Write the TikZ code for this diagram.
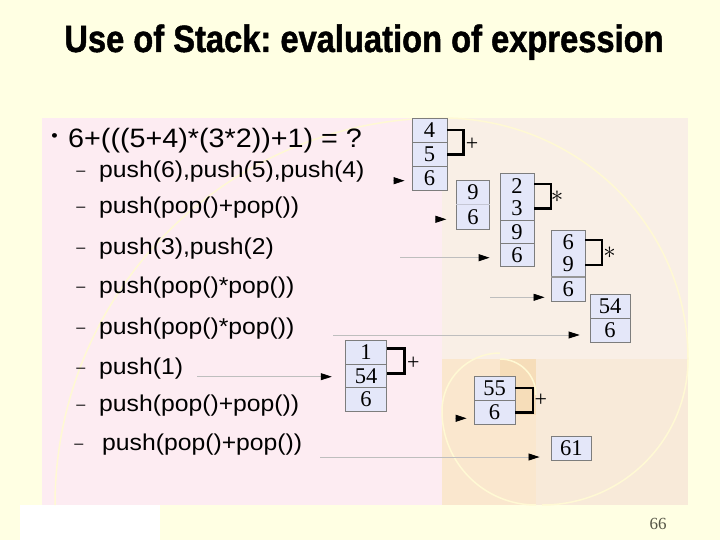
\documentclass[tikz,border=0pt]{standalone}
\usepackage{fontspec}
\setmainfont{Liberation Serif}
\newfontfamily\bodyfont[FakeStretch=1.08]{Liberation Sans}
\newfontfamily\titlefont[FakeStretch=0.86,BoldFeatures={FakeBold=1.2}]{Liberation Sans}
\newfontfamily\numfont{Liberation Serif}
\usetikzlibrary{arrows.meta}
\frenchspacing
\definecolor{slidebg}{RGB}{255,255,227}
\definecolor{pinkpanel}{RGB}{253,236,242}
\definecolor{beigepanel}{RGB}{249,239,230}
\definecolor{lowpanel}{RGB}{248,234,217}
\definecolor{orangepanel}{RGB}{250,231,206}
\definecolor{darkpanel}{RGB}{246,221,185}
\definecolor{spiral}{RGB}{255,249,212}
\definecolor{boxfill}{RGB}{228,231,249}
\definecolor{boxline}{RGB}{125,125,125}
\definecolor{connline}{RGB}{190,190,190}
\definecolor{pagenum}{RGB}{85,85,70}
\tikzset{
  cell/.style={draw=boxline, fill=boxfill, line width=0.8pt, inner sep=0pt,
    font=\numfont\fontsize{22.5}{22}\selectfont, align=center},
  brk/.style={line width=2.7pt, black},
  conn/.style={draw=connline, line width=0.8pt,
    -{Triangle[length=11pt,width=7pt,color=black]}},
  op/.style={inner sep=0pt, font=\numfont\fontsize{22}{22}\selectfont},
  ast/.style={inner sep=0pt, font=\fontsize{27}{27}\selectfont},
  mainline/.style={inner sep=0pt, anchor=base west, font=\bodyfont\fontsize{26.6}{28}\selectfont},
  subline/.style={inner sep=0pt, anchor=base west, font=\bodyfont\fontsize{22.9}{24}\selectfont},
  subdash/.style={inner sep=0pt, font=\bodyfont\fontsize{15}{18}\selectfont},
  arcline/.style={draw=spiral, line width=1.5pt},
}
\begin{document}
\begin{tikzpicture}[x=1pt,y=-1pt]
\useasboundingbox (0,0) rectangle (720,540);
% backgrounds
\fill[slidebg] (0,0) rectangle (720,540);
\fill[pinkpanel] (42,118) rectangle (442,505);
\fill[beigepanel] (442,118) rectangle (688,359);
\fill[lowpanel] (442,359) rectangle (688,505);
\fill[orangepanel] (442,359) rectangle (536,505);
\fill[darkpanel] (500,359) rectangle (536,415);
\fill[white] (20,505) rectangle (160,540);
% spiral arcs
\draw[arcline] (55,505) arc[start angle=180, end angle=270, radius=387];
\draw[arcline] (442,118) arc[start angle=270, end angle=360, x radius=246, y radius=241];
\draw[arcline] (688,359) arc[start angle=0, end angle=90, radius=146];
\draw[arcline] (536,505) arc[start angle=90, end angle=180, radius=94];
\draw[arcline] (442,411) arc[start angle=180, end angle=270, radius=58];
\draw[arcline] (500,359) arc[start angle=270, end angle=360, radius=36];

% title
\node[inner sep=0pt, anchor=base, font=\titlefont\bfseries\fontsize{38}{40}\selectfont] (title) at (364,52) {Use of Stack: evaluation of expression};

% text
\node[inner sep=0pt, font=\bodyfont\fontsize{17}{20}\selectfont] (bul) at (54.5,138) {•};
\node[mainline] (eq) at (68,148) {6+(((5+4)*(3*2))+1) = ?};
\node[subdash] (d1) at (81,173.3) {–};
\node[subline] (s1) at (99,177.5) {push(6),push(5),push(4)};
\node[subdash] (d2) at (81,209) {–};
\node[subline] (s2) at (99,213.2) {push(pop()+pop())};
\node[subdash] (d3) at (81,250) {–};
\node[subline] (s3) at (99,254.2) {push(3),push(2)};
\node[subdash] (d4) at (81,289) {–};
\node[subline] (s4) at (99,293.2) {push(pop()*pop())};
\node[subdash] (d5) at (81,330) {–};
\node[subline] (s5) at (99,334.2) {push(pop()*pop())};
\node[subdash] (d6) at (81,370) {–};
\node[subline] (s6) at (99,374.2) {push(1)};
\node[subdash] (d7) at (81,407.3) {–};
\node[subline] (s7) at (99,411.5) {push(pop()+pop())};
\node[subdash] (d8) at (79,446.7) {–};
\node[subline] (s8) at (102,450.9) {push(pop()+pop())};

% stacks
\node[cell, minimum width=35, minimum height=24] (b1a) at (429.5,130) {4};
\node[cell, minimum width=35, minimum height=24.3] (b1b) at (429.5,154.3) {5};
\node[cell, minimum width=35, minimum height=23.7] (b1c) at (429.5,178.3) {6};

\node[cell, minimum width=33, minimum height=23.6] (b2a) at (473,192.5) {9};
\node[cell, minimum width=33, minimum height=24.7] (b2b) at (473,216.7) {6};
\draw[draw=boxfill!70!boxline, line width=0.9pt] (b2a.south west) -- (b2a.south east);

\node[cell, minimum width=34, minimum height=46.7] (b3a) at (517,196.7) {2\\3};
\node[cell, minimum width=34, minimum height=23.3] (b3b) at (517,231.7) {9};
\node[cell, minimum width=34, minimum height=23.4] (b3c) at (517,255) {6};

\node[cell, minimum width=33.3, minimum height=46.7] (b4a) at (568.3,253.3) {6\\9};
\node[cell, minimum width=33.3, minimum height=25] (b4b) at (568.3,289.2) {6};
\draw[draw=boxline!80, line width=1.8pt] (b4a.south west) -- (b4a.south east);

\node[cell, minimum width=40, minimum height=24.3] (b5a) at (610,306.2) {54};
\node[cell, minimum width=40, minimum height=24] (b5b) at (610,330.3) {6};

\node[cell, minimum width=40.3, minimum height=23.6] (b6a) at (366,352.5) {1};
\node[cell, minimum width=40.3, minimum height=23] (b6b) at (366,375.8) {54};
\node[cell, minimum width=40.3, minimum height=23.7] (b6c) at (366,399.2) {6};

\node[cell, minimum width=41, minimum height=24] (b7a) at (494.5,388) {55};
\node[cell, minimum width=41, minimum height=24.3] (b7b) at (494.5,412.2) {6};

\node[cell, minimum width=40.7, minimum height=24.7] (b8) at (571.3,448.3) {61};

% brackets and operators
\draw[brk] (b1a.east) -- ++(16,0) |- (b1b.east);
\node[op] (o1) at (472,144) {+};
\draw[brk] ([yshift=12.7pt]b3a.east) -- ++(16.7,0) |- ([yshift=-11.6pt]b3a.east);
\node[ast] (o3) at (557,196.5) {$\ast$};
\draw[brk] ([yshift=13.3pt]b4a.east) -- ++(16.7,0) |- ([yshift=-11.7pt]b4a.east);
\node[ast] (o4) at (609.5,253) {$\ast$};
\draw[brk] ([yshift=4.2pt]b6a.east) -- ++(18,0) |- ([yshift=2.5pt]b6b.east);
\node[op] (o6) at (413.3,363.3) {+};
\draw[brk] (b7a.east) -- ++(17.7,0) |- (b7b.east);
\node[op] (o7) at (540.7,400.7) {+};

% connectors
\coordinate (a1) at (393,180.7);
\coordinate (a2) at (435,219.3);
\coordinate (a3) at (400,257.7);
\coordinate (a4) at (490,297.3);
\coordinate (a5) at (333,335);
\coordinate (a6) at (197,376.7);
\coordinate (a7) at (455,418.3);
\coordinate (a8) at (320,457);
\draw[conn, shorten >=7pt] (a1) -- (a1 -| b1c.west);
\draw[conn, shorten >=9.7pt] (a2) -- (a2 -| b2b.west);
\draw[conn, shorten >=10pt] (a3) -- (a3 -| b3c.west);
\draw[conn, shorten >=6.7pt] (a4) -- (a4 -| b4b.west);
\draw[conn, shorten >=10pt] (a5) -- (a5 -| b5b.west);
\draw[conn, shorten >=13.7pt] (a6) -- (a6 -| b6b.west);
\draw[conn, shorten >=7pt] (a7) -- (a7 -| b7b.west);
\draw[conn, shorten >=11pt] (a8) -- (a8 -| b8.west);

% page number
\node[inner sep=0pt, text=pagenum, font=\numfont\fontsize{17}{20}\selectfont] (pg) at (658,524) {66};
\end{tikzpicture}
\end{document}
